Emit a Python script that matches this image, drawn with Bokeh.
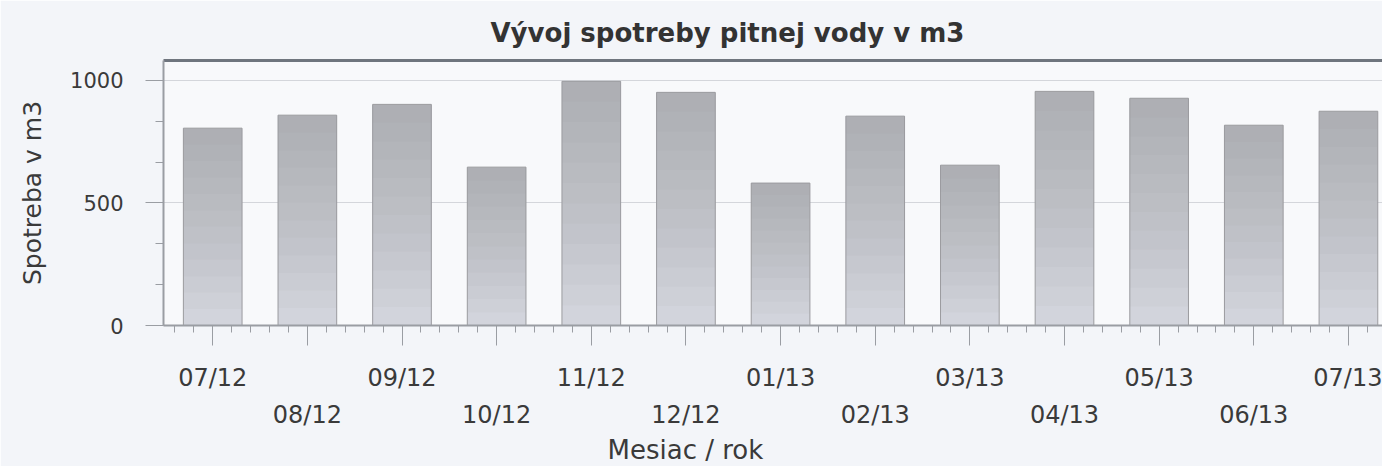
import numpy as np
from bokeh.plotting import figure
from bokeh.models import Range1d, FixedTicker, LinearAxis, ColumnDataSource, Title
from bokeh.embed import file_html
from bokeh.resources import INLINE

# ---- data ----
months = ["07/12", "08/12", "09/12", "10/12", "11/12", "12/12", "01/13",
          "02/13", "03/13", "04/13", "05/13", "06/13", "07/13"]
consumption = [805, 858, 902, 646, 996, 951, 581, 854, 654, 955, 927, 817, 874]
y_ticks = [0, 500, 1000]

title_text = "Vývoj spotreby pitnej vody v m3"
y_label = "Spotreba v m3"
x_label = "Mesiac / rok"

FONT = "DejaVu Sans"
TXT = "#3a3a3a"

idx = list(range(len(months)))
vals = np.array(consumption, dtype=float)

p = figure(width=1382, height=466, output_backend="svg", toolbar_location=None,
           x_range=Range1d(-0.52, 12.36), y_range=Range1d(0, 1081),
           min_border_left=163, min_border_right=0, min_border_top=60,
           min_border_bottom=140,
           background_fill_color="#f8f9fb", border_fill_color="#f3f5f9",
           outline_line_color=None)

p.title.text = title_text
p.title.text_font = FONT
p.title.text_font_size = "26px"
p.title.text_font_style = "bold"
p.title.text_color = "#333333"
p.title.align = "left"
p.title.offset = 327
p.title.standoff = 25

# bars with vertical gradient (light bottom, darker top)
p.vbar(x=idx, top=consumption, bottom=0, width=0.62,
       fill_color="#d6d9e1", line_color=None)
N = 12
for k in range(N):
    src = ColumnDataSource(dict(x=idx, top=vals, bottom=vals * k / N))
    p.vbar(x="x", top="top", bottom="bottom", width=0.62, source=src,
           fill_color="#85868c", fill_alpha=0.05, line_color=None)
p.vbar(x=idx, top=consumption, bottom=0, width=0.62,
       fill_color=None, line_color="#9b9b9f", line_width=1)

# grid
p.xgrid.grid_line_color = None
p.ygrid.ticker = FixedTicker(ticks=y_ticks)
p.ygrid.grid_line_color = "#d4d6db"
p.ygrid.grid_line_width = 1

# y axis
ya = p.yaxis[0]
ya.ticker = FixedTicker(ticks=y_ticks, minor_ticks=[i * 1000 / 6 for i in range(7)])
ya.axis_label = y_label
ya.axis_label_text_font = FONT
ya.axis_label_text_font_size = "25px"
ya.axis_label_text_font_style = "normal"
ya.axis_label_text_color = TXT
ya.axis_label_standoff = 20
ya.major_label_text_font = FONT
ya.major_label_text_font_size = "21px"
ya.major_label_text_color = TXT
ya.major_label_standoff = 22
ya.axis_line_color = "#9a9da3"
ya.axis_line_width = 2
ya.major_tick_out = 18
ya.major_tick_in = 0
ya.minor_tick_out = 8
ya.minor_tick_in = 0
ya.major_tick_line_color = "#9a9da3"
ya.minor_tick_line_color = "#9a9da3"

# x axis, row 1 (even labels)
minor_x = [round(-0.4 + 0.2 * i, 2) for i in range(65)]
xa = p.xaxis[0]
xa.ticker = FixedTicker(ticks=idx, minor_ticks=minor_x)
xa.major_label_overrides = {i: (m if i % 2 == 0 else "") for i, m in zip(idx, months)}
xa.major_label_text_font = FONT
xa.major_label_text_font_size = "24px"
xa.major_label_text_color = TXT
xa.major_label_standoff = 18
xa.axis_line_color = "#9a9da3"
xa.axis_line_width = 2
xa.major_tick_out = 20
xa.major_tick_in = 0
xa.minor_tick_out = 7
xa.minor_tick_in = 0
xa.major_tick_line_color = "#9a9da3"
xa.minor_tick_line_color = "#9a9da3"

# x axis, row 2 (odd labels)
xb = LinearAxis(ticker=FixedTicker(ticks=idx, minor_ticks=[]))
xb.major_label_overrides = {i: (m if i % 2 == 1 else "") for i, m in zip(idx, months)}
xb.major_label_text_font = FONT
xb.major_label_text_font_size = "24px"
xb.major_label_text_color = TXT
xb.major_label_standoff = 6
xb.axis_line_color = None
xb.major_tick_out = 0
xb.major_tick_in = 0
xb.minor_tick_out = 0
xb.minor_tick_in = 0
p.add_layout(xb, "below")

# x axis title (offset to match original placement)
xt_title = Title(text=x_label, align="left", offset=444, standoff=3,
                 text_font=FONT, text_font_size="26px", text_font_style="normal",
                 text_color=TXT)
p.add_layout(xt_title, "below")

# top frame line
xt = LinearAxis(ticker=FixedTicker(ticks=[], minor_ticks=[]))
xt.axis_line_color = "#6f757e"
xt.axis_line_width = 3
xt.major_tick_out = 0
xt.major_tick_in = 0
xt.minor_tick_out = 0
xt.minor_tick_in = 0
xt.major_label_standoff = 0
p.add_layout(xt, "above")

open("out.html", "w").write(file_html(p, INLINE))
